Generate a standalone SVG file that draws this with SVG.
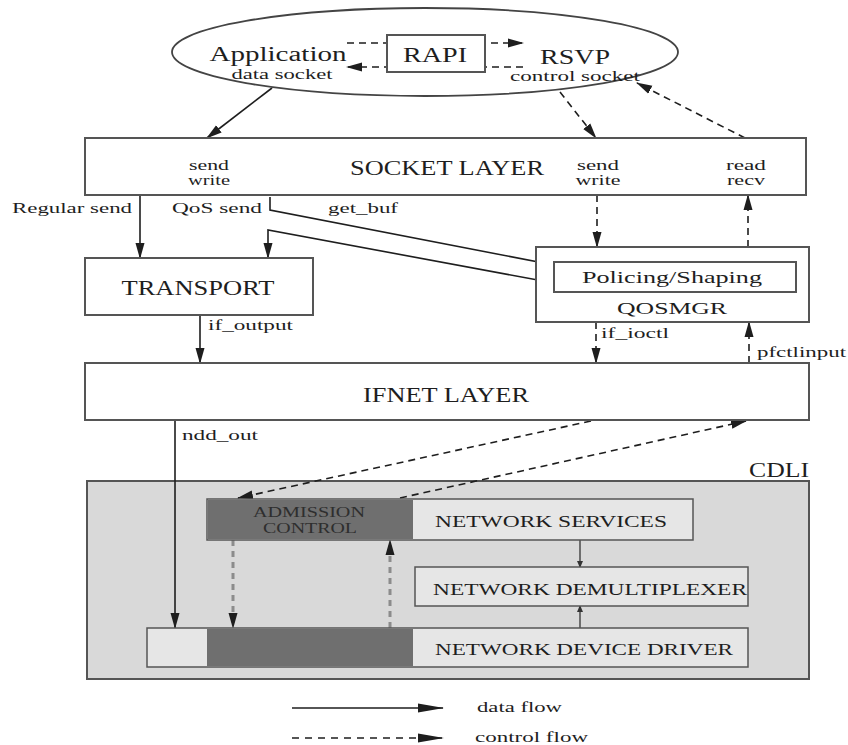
<svg xmlns="http://www.w3.org/2000/svg" width="848" height="745" viewBox="0 0 848 745">
<defs>
<marker id="ah" markerWidth="16" markerHeight="10" refX="15" refY="5" orient="auto" markerUnits="userSpaceOnUse"><path d="M0,0.5 L16,5 L0,9.5 z" fill="#1e1e1e"/></marker>
<marker id="ahl" markerWidth="26" markerHeight="10" refX="25" refY="5" orient="auto" markerUnits="userSpaceOnUse"><path d="M0,0.5 L26,5 L0,9.5 z" fill="#1e1e1e"/></marker>
<marker id="ahs" markerWidth="7" markerHeight="6" refX="6" refY="3" orient="auto" markerUnits="userSpaceOnUse"><path d="M0,0 L7,3 L0,6 z" fill="#333"/></marker>
<style>
text{font-family:"Liberation Serif","Times New Roman",serif;fill:#1e1e1e;text-anchor:middle}
.box{fill:#fff;stroke:#555;stroke-width:2}
.lt{fill:#e6e6e6;stroke:#555;stroke-width:1.5}
.dk{fill:#6f6f6f;stroke:none}
.big{font-size:20px}
.mid{font-size:17px}
.sm{font-size:15px}
.l{text-anchor:start}
.solid{fill:none;stroke:#1e1e1e;stroke-width:1.6;marker-end:url(#ah)}
.dash{fill:none;stroke:#1e1e1e;stroke-width:1.6;stroke-dasharray:7,5;marker-end:url(#ah)}
.gdash{fill:none;stroke:#8c8c8c;stroke-width:3;stroke-dasharray:6,5;marker-end:url(#ah)}
</style>
</defs>
<rect width="848" height="745" fill="#fff"/>

<g id="cdli">
<rect x="87" y="481" width="722" height="198" fill="#d9d9d9" stroke="#555" stroke-width="2"/>
<text class="big" x="779" y="477" textLength="60" lengthAdjust="spacingAndGlyphs">CDLI</text>
</g>

<g id="connectors">
<line x1="347" y1="43" x2="523" y2="43" class="dash"/>
<line x1="523" y1="67" x2="347" y2="67" class="dash"/>
<line x1="272" y1="88" x2="207" y2="138" class="solid"/>
<line x1="560" y1="92" x2="596" y2="138" class="dash"/>
<line x1="745" y1="138" x2="637" y2="83" class="dash"/>
<line x1="140" y1="195" x2="140" y2="258" class="solid"/>
<polyline points="270,197 270,210 554,265" fill="none" stroke="#1e1e1e" stroke-width="1.6"/>
<polyline points="554,283 268,230 268,258" class="solid"/>
<line x1="597" y1="195" x2="597" y2="247" class="dash"/>
<line x1="748" y1="247" x2="748" y2="195" class="dash"/>
<line x1="200" y1="315" x2="200" y2="363" class="solid"/>
<line x1="596" y1="322" x2="596" y2="363" class="dash"/>
<line x1="749" y1="363" x2="749" y2="322" class="dash"/>
<line x1="175" y1="420" x2="175" y2="628" class="solid"/>
<line x1="591" y1="421" x2="238" y2="498" class="dash"/>
<line x1="400" y1="498" x2="746" y2="421" class="dash"/>
<line x1="233" y1="540" x2="233" y2="628" class="gdash"/>
<line x1="390" y1="628" x2="390" y2="540" class="gdash"/>
<line x1="580" y1="540" x2="580" y2="567" fill="none" stroke="#333" stroke-width="1.3" marker-end="url(#ahs)"/>
<line x1="580" y1="628" x2="580" y2="606" fill="none" stroke="#333" stroke-width="1.3" marker-end="url(#ahs)"/>
<line x1="292" y1="708" x2="443" y2="708" fill="none" stroke="#1e1e1e" stroke-width="1.6" marker-end="url(#ahl)"/>
<line x1="292" y1="738" x2="443" y2="738" fill="none" stroke="#1e1e1e" stroke-width="1.6" stroke-dasharray="7,6" marker-end="url(#ahl)"/>
</g>

<g id="userspace">
<ellipse cx="425" cy="52" rx="253" ry="44" fill="none" stroke="#444" stroke-width="1.8"/>
<text class="big" x="278" y="61" textLength="137" lengthAdjust="spacingAndGlyphs">Application</text>
<text x="282" y="79" font-size="14" textLength="101" lengthAdjust="spacingAndGlyphs">data socket</text>
<text class="big" x="575" y="64" textLength="70" lengthAdjust="spacingAndGlyphs">RSVP</text>
<text x="575" y="81" font-size="14" textLength="130" lengthAdjust="spacingAndGlyphs">control socket</text>
</g>

<g id="rapi">
<rect class="box" x="387" y="35" width="98" height="37"/>
<text class="big" x="435" y="62" textLength="64" lengthAdjust="spacingAndGlyphs">RAPI</text>
</g>

<g id="socket-layer">
<rect class="box" x="85" y="138" width="721" height="57"/>
<text class="big" x="447" y="175" textLength="194" lengthAdjust="spacingAndGlyphs">SOCKET LAYER</text>
<text class="sm" x="209" y="170" textLength="40" lengthAdjust="spacingAndGlyphs">send</text>
<text class="sm" x="209" y="185" textLength="42" lengthAdjust="spacingAndGlyphs">write</text>
<text class="sm" x="598" y="170" textLength="42" lengthAdjust="spacingAndGlyphs">send</text>
<text class="sm" x="598" y="185" textLength="45" lengthAdjust="spacingAndGlyphs">write</text>
<text class="sm" x="746" y="170" textLength="40" lengthAdjust="spacingAndGlyphs">read</text>
<text class="sm" x="746" y="185" textLength="38" lengthAdjust="spacingAndGlyphs">recv</text>
</g>

<g id="labels">
<text class="sm" x="72" y="213" textLength="120" lengthAdjust="spacingAndGlyphs">Regular send</text>
<text class="sm" x="217" y="213" textLength="90" lengthAdjust="spacingAndGlyphs">QoS send</text>
<text class="sm" x="363" y="213" textLength="70" lengthAdjust="spacingAndGlyphs">get_buf</text>
<text class="sm l" x="208" y="330" textLength="85" lengthAdjust="spacingAndGlyphs">if_output</text>
<text class="sm l" x="601" y="338" textLength="68" lengthAdjust="spacingAndGlyphs">if_ioctl</text>
<text class="sm l" x="757" y="357" textLength="89" lengthAdjust="spacingAndGlyphs">pfctlinput</text>
<text class="sm l" x="182" y="440" textLength="76" lengthAdjust="spacingAndGlyphs">ndd_out</text>
</g>

<g id="transport">
<rect class="box" x="85" y="258" width="228" height="57"/>
<text class="big" x="198" y="295" textLength="153" lengthAdjust="spacingAndGlyphs">TRANSPORT</text>
</g>

<g id="qosmgr">
<rect class="box" x="536" y="247" width="273" height="75"/>
<rect class="box" x="554" y="262" width="242" height="30" stroke-width="1.8"/>
<text class="mid" x="672" y="283" textLength="180" lengthAdjust="spacingAndGlyphs">Policing/Shaping</text>
<text class="mid" x="672" y="314" textLength="110" lengthAdjust="spacingAndGlyphs">QOSMGR</text>
</g>

<g id="ifnet-layer">
<rect class="box" x="85" y="363" width="724" height="57"/>
<text class="big" x="446" y="402" textLength="166" lengthAdjust="spacingAndGlyphs">IFNET LAYER</text>
</g>

<g id="network-services">
<rect class="lt" x="207" y="499" width="486" height="41"/>
<rect class="dk" x="208" y="500" width="205" height="39"/>
<text x="309" y="517" font-size="14" textLength="112" lengthAdjust="spacingAndGlyphs" style="fill:#2e2e2e">ADMISSION</text>
<text x="310" y="533" font-size="14" textLength="94" lengthAdjust="spacingAndGlyphs" style="fill:#2e2e2e">CONTROL</text>
<text class="mid" x="551" y="527" textLength="232" lengthAdjust="spacingAndGlyphs">NETWORK SERVICES</text>
</g>

<g id="network-demultiplexer">
<rect class="lt" x="415" y="567" width="333" height="39"/>
<text class="mid" x="590" y="595" textLength="314" lengthAdjust="spacingAndGlyphs">NETWORK DEMULTIPLEXER</text>
</g>

<g id="network-device-driver">
<rect class="lt" x="147" y="628" width="601" height="39"/>
<rect class="dk" x="207" y="629" width="206" height="37"/>
<text class="mid" x="584" y="655" textLength="298" lengthAdjust="spacingAndGlyphs">NETWORK DEVICE DRIVER</text>
</g>

<g id="legend">
<text class="sm l" x="477" y="712" textLength="85" lengthAdjust="spacingAndGlyphs">data flow</text>
<text class="sm l" x="475" y="742" textLength="113" lengthAdjust="spacingAndGlyphs">control flow</text>
</g>
</svg>
